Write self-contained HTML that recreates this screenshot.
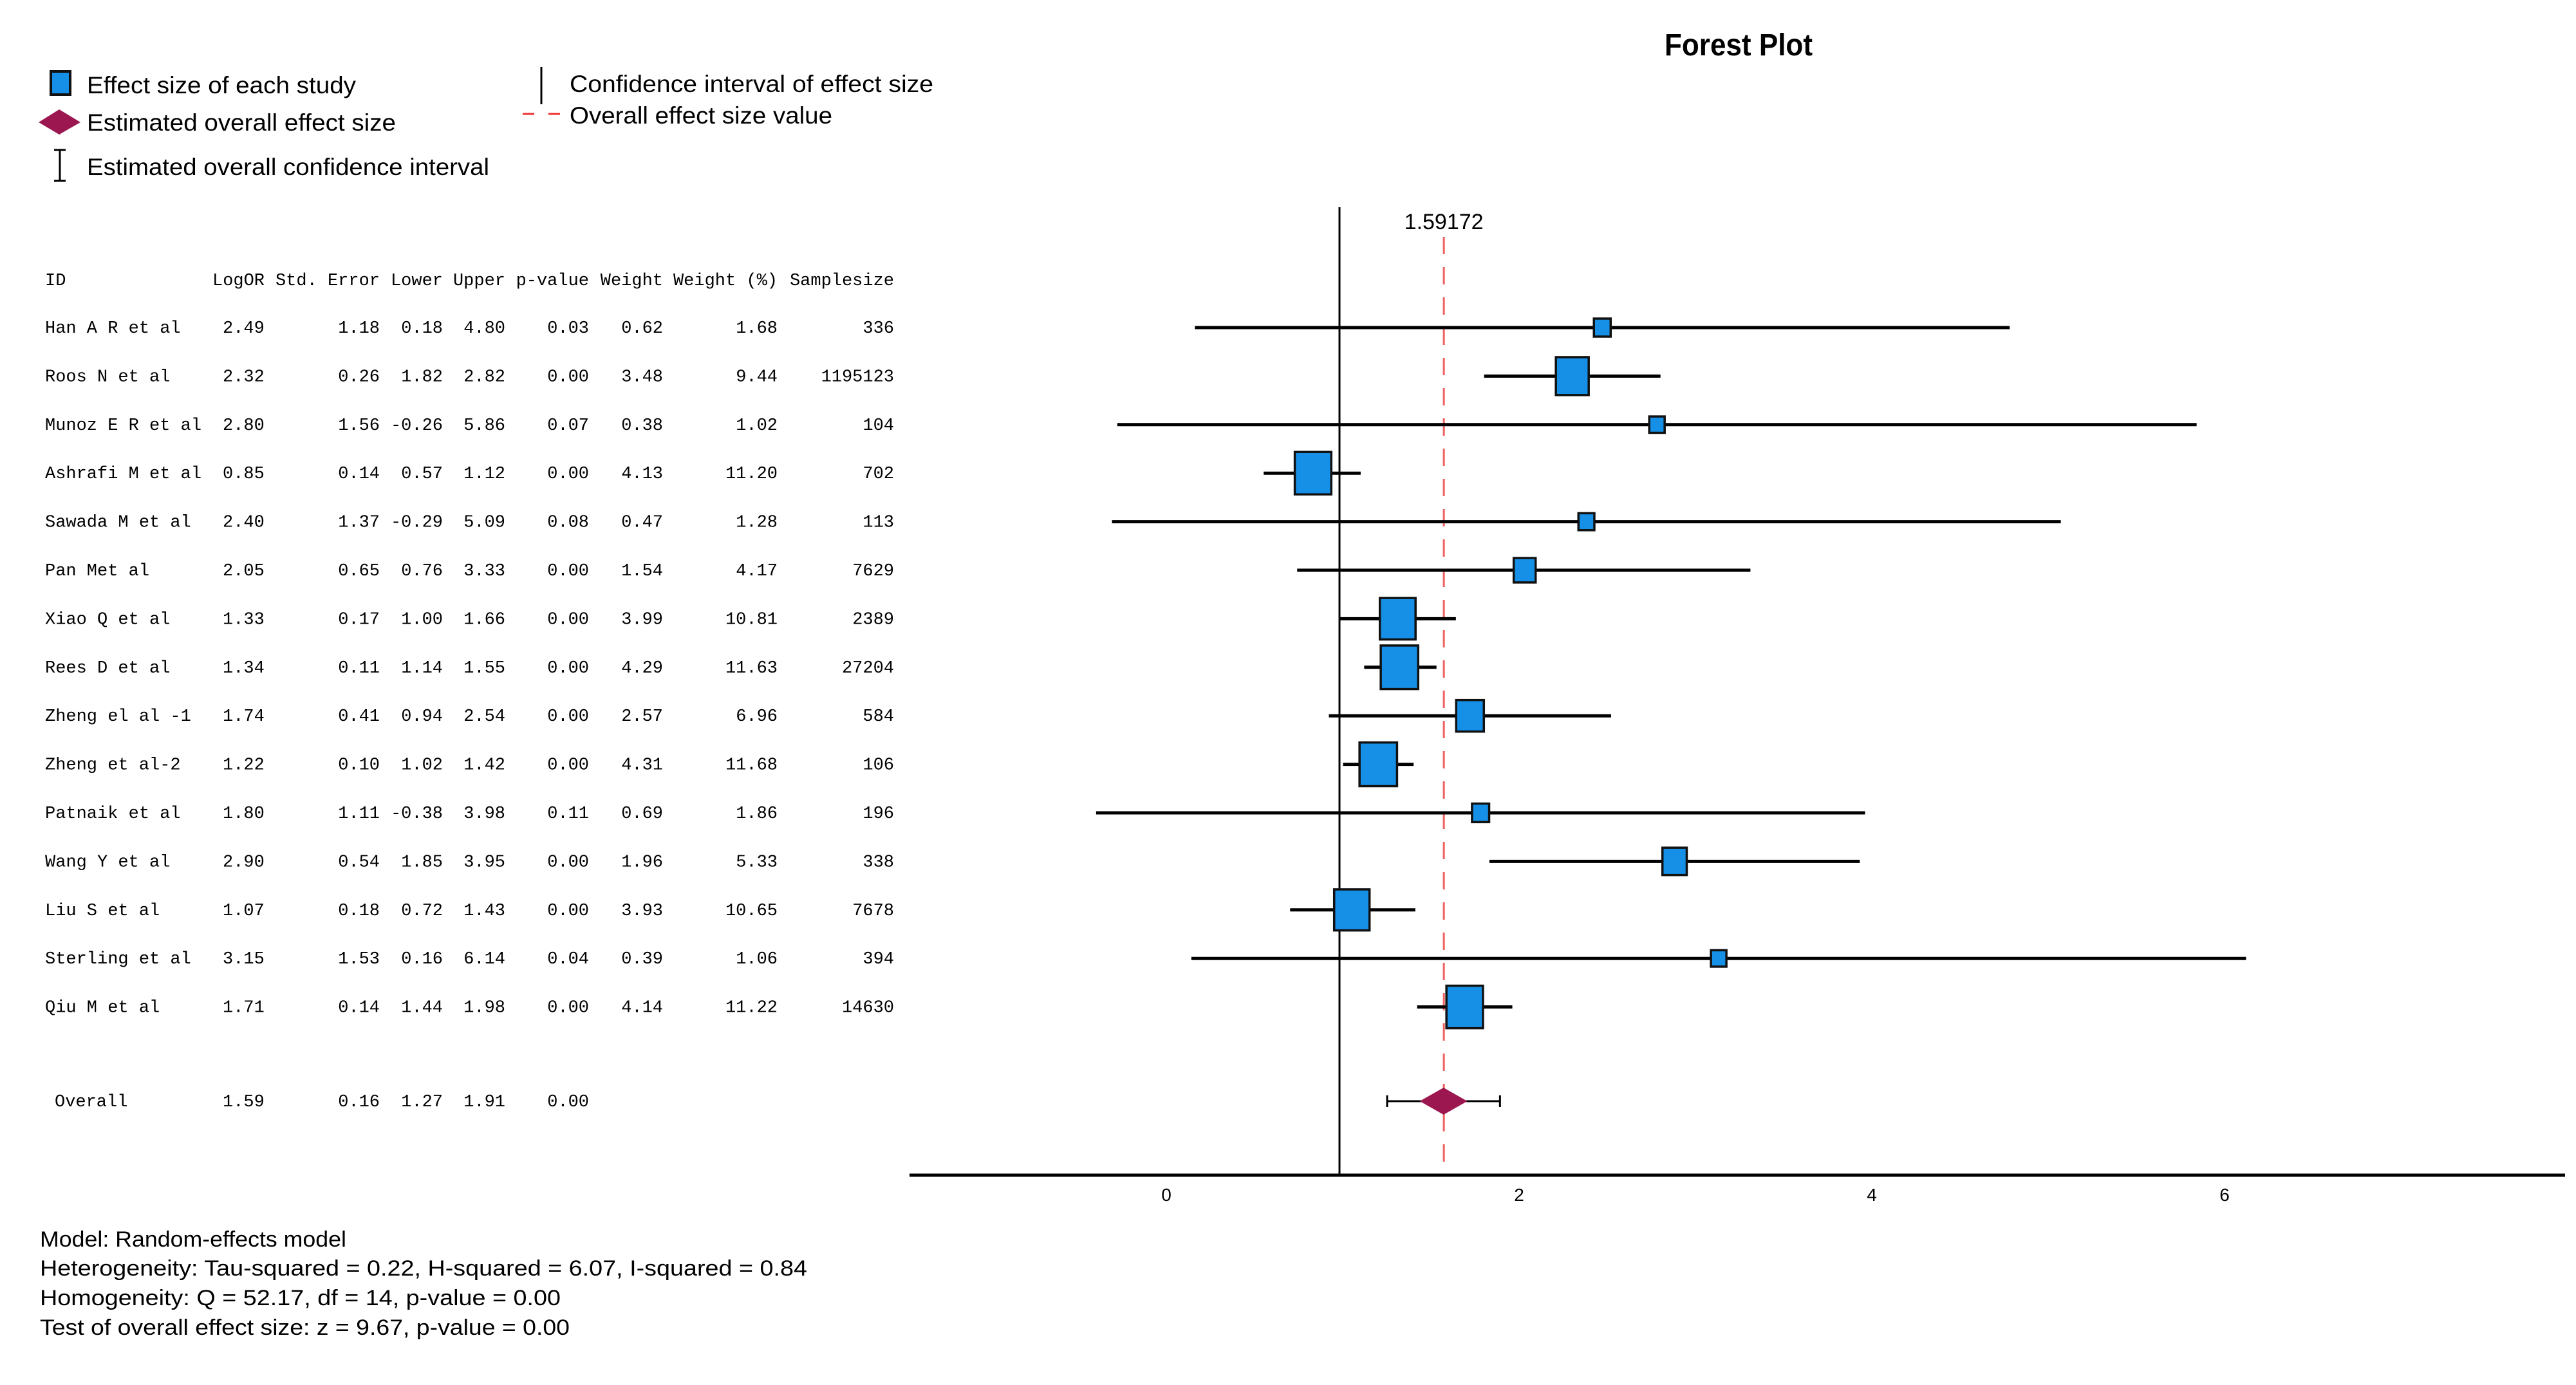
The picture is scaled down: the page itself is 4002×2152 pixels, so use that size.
<!DOCTYPE html>
<html><head><meta charset="utf-8"><style>
html,body{margin:0;padding:0;background:#fff;}
svg{display:block;}
text{font-family:"Liberation Sans",sans-serif;fill:#000;}
.mono{font-family:"Liberation Mono",monospace;font-size:27px;}
</style></head><body>
<svg id="chart" width="4002" height="2152" viewBox="0 0 4002 2152" xmlns="http://www.w3.org/2000/svg">
<text x="2701" y="86" font-size="48" font-weight="bold" text-anchor="middle" textLength="230" lengthAdjust="spacingAndGlyphs">Forest Plot</text>
<g>
 <rect x="79" y="111" width="30" height="36" fill="#1590e6" stroke="#111" stroke-width="4"/>
 <text x="135" y="145" font-size="37" textLength="418" lengthAdjust="spacingAndGlyphs">Effect size of each study</text>
 <polygon points="60,190 92,170 125,190 92,209" fill="#9c1650"/>
 <text x="135" y="203" font-size="37" textLength="480" lengthAdjust="spacingAndGlyphs">Estimated overall effect size</text>
 <g stroke="#000" stroke-width="3"><line x1="93" y1="233" x2="93" y2="281"/><line x1="84" y1="233" x2="102" y2="233"/><line x1="84" y1="281" x2="102" y2="281"/></g>
 <text x="135" y="272" font-size="37" textLength="625" lengthAdjust="spacingAndGlyphs">Estimated overall confidence interval</text>
 <line x1="841" y1="104" x2="841" y2="162" stroke="#000" stroke-width="3"/>
 <text x="885" y="143" font-size="37" textLength="565" lengthAdjust="spacingAndGlyphs">Confidence interval of effect size</text>
 <line x1="812" y1="177" x2="870" y2="177" stroke="#f03030" stroke-width="3" stroke-dasharray="18,22"/>
 <text x="885" y="192" font-size="37" textLength="408" lengthAdjust="spacingAndGlyphs">Overall effect size value</text>
</g>
<g id="table"></g>
<g id="plot"></g>
<g>
 <text x="62" y="1937" font-size="34" textLength="476" lengthAdjust="spacingAndGlyphs">Model: Random-effects model</text>
 <text x="62" y="1982" font-size="34" textLength="1192" lengthAdjust="spacingAndGlyphs">Heterogeneity: Tau-squared = 0.22, H-squared = 6.07, I-squared = 0.84</text>
 <text x="62" y="2028" font-size="34" textLength="809" lengthAdjust="spacingAndGlyphs">Homogeneity: Q = 52.17, df = 14, p-value = 0.00</text>
 <text x="62" y="2074" font-size="34" textLength="823" lengthAdjust="spacingAndGlyphs">Test of overall effect size: z = 9.67, p-value = 0.00</text>
</g>
</svg>
<script>
const studies = ["Han A R et al","Roos N et al","Munoz E R et al","Ashrafi M et al","Sawada M et al","Pan Met al","Xiao Q et al","Rees D et al","Zheng el al -1","Zheng et al-2","Patnaik et al","Wang Y et al","Liu S et al","Sterling et al","Qiu M et al"];
const logOR = [2.49,2.32,2.80,0.85,2.40,2.05,1.33,1.34,1.74,1.22,1.80,2.90,1.07,3.15,1.71];
const stdErr = [1.18,0.26,1.56,0.14,1.37,0.65,0.17,0.11,0.41,0.10,1.11,0.54,0.18,1.53,0.14];
const lower = [0.18,1.82,-0.26,0.57,-0.29,0.76,1.00,1.14,0.94,1.02,-0.38,1.85,0.72,0.16,1.44];
const upper = [4.80,2.82,5.86,1.12,5.09,3.33,1.66,1.55,2.54,1.42,3.98,3.95,1.43,6.14,1.98];
const pValue = [0.03,0.00,0.07,0.00,0.08,0.00,0.00,0.00,0.00,0.00,0.11,0.00,0.00,0.04,0.00];
const weight = [0.62,3.48,0.38,4.13,0.47,1.54,3.99,4.29,2.57,4.31,0.69,1.96,3.93,0.39,4.14];
const weightPct = [1.68,9.44,1.02,11.20,1.28,4.17,10.81,11.63,6.96,11.68,1.86,5.33,10.65,1.06,11.22];
const sampleSize = ["336","1195123","104","702","113","7629","2389","27204","584","106","196","338","7678","394","14630"];
const overall = [1.59,0.16,1.27,1.91,0.00];
const overallValue = 1.59172;
const nullValue = 1;
const xTicks = [0,2,4,6];

const NS="http://www.w3.org/2000/svg";
const xScale = v => 1807 + 274*v;
const yRow = i => 509 + 75.4*i;
const yOverall = 1711;
function mk(tag, attrs, parent, txt){const e=document.createElementNS(NS,tag);for(const k in attrs)e.setAttribute(k,attrs[k]);if(txt!==undefined)e.textContent=txt;parent.appendChild(e);return e;}
const table=document.getElementById('table');
const plot=document.getElementById('plot');
// header
const hdr=[["ID",70,"start"],["LogOR",330,"start"],["Std. Error",590,"end"],["Lower",688,"end"],["Upper",785,"end"],["p-value",915,"end"],["Weight",1030,"end"],["Weight (%)",1208,"end"],["Samplesize",1389,"end"]];
hdr.forEach(h=>{
 const t=mk('text',{x:h[1],y:443,'class':'mono','text-anchor':h[2]},table,h[0]);
 
 
});
function row(y, vals, name){
 const cols=[[70,"start"],[346,"start"],[590,"end"],[688,"end"],[785,"end"],[915,"end"],[1030,"end"],[1208,"end"],[1389,"end"]];
 vals.forEach((v,j)=>{ if(v===null) return;
  const x = (j===0 && name==='overall') ? 85 : cols[j][0];
  const t=mk('text',{x:x,y:y+8,'class':'mono','text-anchor':cols[j][1]},table,v);
  
  
 });
}
studies.forEach((s,i)=>row(yRow(i),[s,logOR[i].toFixed(2),stdErr[i].toFixed(2),lower[i].toFixed(2),upper[i].toFixed(2),pValue[i].toFixed(2),weight[i].toFixed(2),weightPct[i].toFixed(2),sampleSize[i]],'study-row-'+(i+1)));
row(yOverall,["Overall",overall[0].toFixed(2),overall[1].toFixed(2),overall[2].toFixed(2),overall[3].toFixed(2),overall[4].toFixed(2),null,null,null],'overall');

// null line
const nl=mk('line',{x1:xScale(nullValue),y1:322,x2:xScale(nullValue),y2:1825,stroke:'#000','stroke-width':3},plot);


// overall dashed line
const ol=mk('line',{x1:xScale(overallValue),y1:368,x2:xScale(overallValue),y2:1825,stroke:'#f06060','stroke-width':3,'stroke-dasharray':'27,20'},plot);


const olt=mk('text',{x:xScale(overallValue),y:356,'font-size':34,'text-anchor':'middle'},plot,String(overallValue));


// axis
const ax=mk('line',{x1:1413,y1:1826,x2:3985,y2:1826,stroke:'#000','stroke-width':5},plot);


xTicks.forEach(v=>{
 const t=mk('text',{x:xScale(v)+5,y:1866,'font-size':28,'text-anchor':'middle'},plot,String(v));
 
 
});
// studies
studies.forEach((s,i)=>{
 const y=yRow(i);
 const l=mk('line',{x1:xScale(lower[i]),y1:y,x2:xScale(upper[i]),y2:y,stroke:'#000','stroke-width':5},plot);
 
 
 const w=20.6+8.74*weight[i], h=21.3+10.8*weight[i];
 const r=mk('rect',{x:xScale(logOR[i])-w/2,y:y-h/2,width:w,height:h,fill:'#1590e6',stroke:'#111','stroke-width':3.5},plot);
 
 
});
// overall CI + diamond
const oy=yOverall, ox1=xScale(overall[2]), ox2=xScale(overall[3]);
const oc=mk('path',{d:`M${ox1},${oy}H${ox2}M${ox1},${oy-9}V${oy+9}M${ox2},${oy-9}V${oy+9}`,stroke:'#000','stroke-width':3,fill:'none'},plot);


const cx=xScale(overall[0]);
const dm=mk('polygon',{points:`${cx-37},${oy} ${cx},${oy-21} ${cx+37},${oy} ${cx},${oy+21}`,fill:'#9c1650'},plot);


</script>
</body></html>
